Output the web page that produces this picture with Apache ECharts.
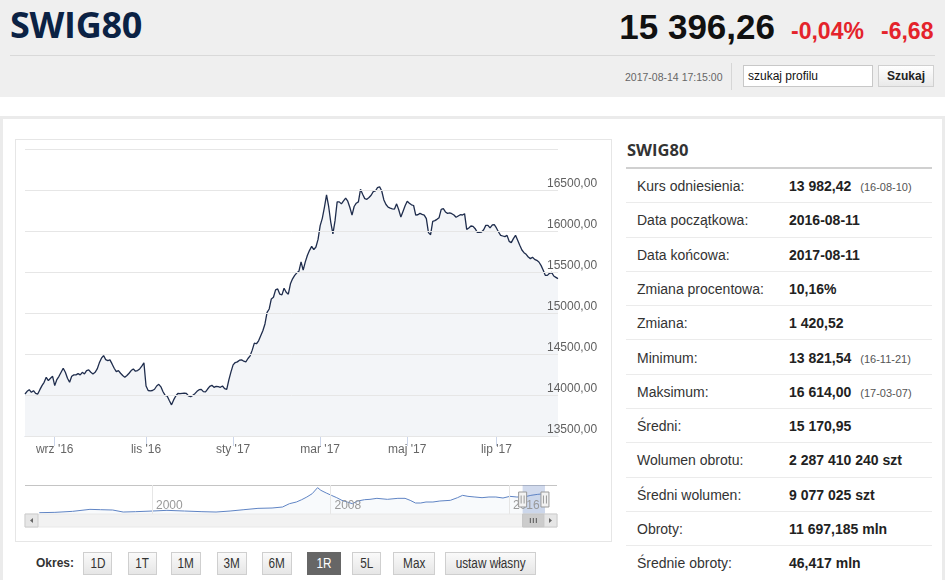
<!DOCTYPE html>
<html><head><meta charset="utf-8">
<script src="https://cdn.jsdelivr.net/npm/echarts@6/dist/echarts.min.js"></script>
<style>
html,body{margin:0;padding:0;width:945px;height:580px;overflow:hidden;background:#fff;font-family:"Liberation Sans",Arial,sans-serif;}
.a{position:absolute;white-space:nowrap;}
#hdr{left:0;top:0;width:945px;height:97px;background:#efefef;}
#t1{left:10px;top:5px;line-height:40px;font-family:"Open Sans",sans-serif;font-weight:700;font-size:36px;color:#0b2244;letter-spacing:-0.3px;}
#price{right:170px;top:7px;line-height:40px;font-weight:700;font-size:35px;color:#111;}
#pct{left:791px;top:11px;line-height:40px;font-weight:700;font-size:23px;color:#e4232b;}
#chg{left:881px;top:11px;line-height:40px;font-weight:700;font-size:23px;color:#e4232b;}
#hline{left:10px;top:55px;width:925px;height:1px;background:#d9d9d9;}
#date{left:625px;top:67px;line-height:20px;font-size:10.5px;color:#666;}
#vsep{left:731px;top:63px;width:1px;height:27px;background:#d6d6d6;}
#inp{left:743px;top:65px;width:130px;height:22px;box-sizing:border-box;border:1px solid #c8c8c8;background:#fff;font-size:12px;line-height:20px;padding-left:4px;color:#111;}
#btn{left:878px;top:65px;width:56px;height:22px;box-sizing:border-box;border:1px solid #d0d0d0;background:linear-gradient(#ffffff,#e9e9e9);font-size:12px;font-weight:700;line-height:20px;text-align:center;color:#222;}
#outer{left:0;top:116px;width:945px;height:470px;box-sizing:border-box;border:3px solid #ebebeb;border-bottom:none;}
#cbox{left:15px;top:139px;width:597px;height:403px;box-sizing:border-box;border:1px solid #e6e6e6;}
#chart{left:16px;top:140px;width:595px;height:401px;}
#okres{left:36px;top:552px;line-height:23px;font-size:12px;font-weight:700;color:#333;}
.pb{top:552px;height:23px;box-sizing:border-box;border:1px solid #cfcfcf;background:linear-gradient(#fafafa,#e6e6e6);font-size:14px;line-height:21px;text-align:center;color:#333;}
.pb span{display:inline-block;transform:scaleX(0.84);transform-origin:50% 50%;}
.pb.on{background:#666;border-color:#666;color:#fff;}
#rt{left:627px;top:140px;line-height:20px;font-family:"Open Sans",sans-serif;font-weight:700;font-size:16.5px;color:#333;}
#rline{left:626px;top:167px;width:306px;height:2px;background:#d0d0d0;}
.row{left:626px;width:306px;height:34.3px;box-sizing:border-box;border-bottom:1px solid #ebebeb;}
.row .l{position:absolute;left:11px;top:0;line-height:35px;font-size:14px;color:#333;}
.row .v{position:absolute;left:163px;top:0;line-height:35px;font-size:14px;font-weight:700;color:#222;}
.row .d{font-size:11px;font-weight:400;color:#555;margin-left:9px;}
</style></head>
<body>
<div id="hdr" class="a"></div>
<div id="t1" class="a">SWIG80</div>
<div id="price" class="a">15 396,26</div>
<div id="pct" class="a">-0,04%</div>
<div id="chg" class="a">-6,68</div>
<div id="hline" class="a"></div>
<div id="date" class="a">2017-08-14 17:15:00</div>
<div id="vsep" class="a"></div>
<div id="inp" class="a">szukaj profilu</div>
<div id="btn" class="a">Szukaj</div>
<div id="outer" class="a"></div>
<div id="cbox" class="a"></div>
<div id="chart" class="a"></div>
<div id="okres" class="a">Okres:</div>
<div id="btns"></div>
<div id="rt" class="a">SWIG80</div>
<div id="rline" class="a"></div>
<div id="rows"></div>
<script>
// ---- main series (daily closes, trading days 2016-08-11 .. 2017-08-11) ----
const startDate = '2016-08-11';
const endDate = '2017-08-11';
const holidays = ['2016-08-15','2016-11-01','2016-11-11','2016-12-26','2017-01-06','2017-04-14','2017-04-17','2017-05-01','2017-05-03','2017-06-15'];
const closeValues = [
14012,14045,14065,14033,14053,14020,14012,14065,14114,14155,
14216,14175,14204,14228,14114,14188,14228,14277,14326,14277,
14204,14155,14228,14245,14245,14261,14245,14277,14257,14298,
14306,14277,14257,14277,14318,14392,14449,14481,14432,14420,
14428,14379,14326,14286,14298,14265,14237,14216,14237,14265,
14298,14318,14290,14298,14318,14351,14392,14110,14055,14050,
14055,14070,14110,14130,14100,14040,13995,13985,13930,13880,
13940,13988,14020,14016,14020,14024,14020,13988,13980,13996,
14016,14045,14065,14069,14041,14037,14073,14106,14118,14094,
14106,14102,14094,14110,14078,14069,14184,14282,14367,14396,
14404,14425,14429,14412,14404,14445,14478,14547,14633,14625,
14661,14723,14784,14866,15008,15049,15172,15192,15282,15294,
15229,15221,15302,15253,15229,15356,15417,15458,15490,15510,
15624,15523,15624,15704,15764,15813,15772,15805,15897,16066,
16154,16287,16440,16299,16106,15965,16126,16355,16355,16331,
16367,16400,16363,16287,16194,16299,16339,16355,16508,16448,
16395,16387,16408,16436,16480,16488,16528,16540,16488,16379,
16323,16291,16279,16271,16267,16331,16259,16170,16239,16307,
16363,16339,16319,16311,16194,16198,16215,16203,16194,16150,
15980,15955,16118,16126,16142,16163,16264,16272,16232,16215,
16220,16211,16195,16167,16183,16199,16195,16211,16020,16037,
16061,16057,16028,15984,15984,15988,16016,16069,16069,16037,
16073,16077,16037,15988,15947,15939,15931,15947,15874,15858,
15907,15947,15886,15825,15768,15736,15715,15683,15663,15679,
15654,15642,15622,15581,15524,15459,15459,15484,15496,15451,
15435,15419];
const tickDates = ['2016-09-01','2016-11-02','2017-01-02','2017-03-01','2017-05-02','2017-07-03'];
const tickLabels = ["wrz '16","lis '16","sty '17","mar '17","maj '17","lip '17"];
const yTickValues = [13500,14000,14500,15000,15500,16000,16500,17000];

// ---- navigator (full history) ----
const navYears = [1994.95,1995.65,1996.44,1997.22,1997.69,1998.24,1998.71,1999.26,2000.01,2000.67,2001.46,2002.24,2002.87,2003.50,2004.12,2004.75,2005.38,2005.85,2006.16,2006.47,2006.71,2006.94,2007.18,2007.42,2007.57,2007.81,2008.04,2008.28,2008.51,2008.75,2008.98,2009.22,2009.53,2009.77,2010.08,2010.55,2011.02,2011.34,2011.57,2011.81,2012.04,2012.28,2012.59,2012.90,2013.37,2013.69,2013.92,2014.16,2014.47,2014.79,2015.10,2015.41,2015.73,2016.04,2016.35,2016.67,2016.98,2017.29,2017.61];
const navValues = [999,1252,2011,3529,3276,3023,1505,1758,2264,2770,2264,1758,1505,2264,3276,4288,4541,5300,7830,9095,10866,12890,15420,19974,17950,15926,14155,12384,10360,9095,7830,9854,10866,11119,11878,11119,11878,11878,10360,8336,8336,9095,9095,9854,10360,12384,14155,13396,12890,12384,12890,12890,12131,13396,12890,12890,14155,14914,15420];
const navTickYears = [2000,2008,2016];
const navSelection = [2016.61, 2017.61];

// ---- page texts ----
const periodButtons = ['1D','1T','1M','3M','6M','1R','5L','Max','ustaw własny'];
const activePeriod = '1R';
const statLabels = ['Kurs odniesienia:','Data początkowa:','Data końcowa:','Zmiana procentowa:','Zmiana:','Minimum:','Maksimum:','Średni:','Wolumen obrotu:','Średni wolumen:','Obroty:','Średnie obroty:'];
const statValues = ['13 982,42','2016-08-11','2017-08-11','10,16%','1 420,52','13 821,54','16 614,00','15 170,95','2 287 410 240 szt','9 077 025 szt','11 697,185 mln','46,417 mln'];
const statDates = ['(16-08-10)','','','','','(16-11-21)','(17-03-07)','','','','',''];

// build period buttons and stats table
(function(){
  const lefts=[83,128,171,217,262,307,352,393,445];
  const widths=[29,29,30,30,30,34,29,42,91];
  const c=document.getElementById('btns');
  periodButtons.forEach((t,i)=>{
    const d=document.createElement('div');
    d.className='a pb'+(t===activePeriod?' on':'');
    d.style.left=lefts[i]+'px'; d.style.width=widths[i]+'px';
    const s=document.createElement('span'); s.textContent=t; d.appendChild(s);
    c.appendChild(d);
  });
  const r=document.getElementById('rows');
  statLabels.forEach((l,i)=>{
    const d=document.createElement('div');
    d.className='a row';
    d.style.top=(169+34.3*i)+'px';
    d.innerHTML='<span class="l">'+l+'</span><span class="v">'+statValues[i]+(statDates[i]?'<span class="d">'+statDates[i]+'</span>':'')+'</span>';
    r.appendChild(d);
  });
})();

// trading-day categories
function tradingDays(s,e,hol){
  const out=[]; const hs=new Set(hol);
  let d=new Date(s+'T00:00:00Z'); const end=new Date(e+'T00:00:00Z');
  while(d<=end){
    const wd=d.getUTCDay(); const k=d.toISOString().slice(0,10);
    if(wd!==0&&wd!==6&&!hs.has(k)) out.push(k);
    d=new Date(d.getTime()+86400000);
  }
  return out;
}
const dates = tradingDays(startDate,endDate,holidays);
const tickMap = {}; tickDates.forEach((d,i)=>tickMap[d]=tickLabels[i]);
const isTick = (i,v)=> tickMap[v]!==undefined;

const FONT='"Liberation Sans",Arial,sans-serif';
const G0={left:9,top:9,width:533,height:287};
const G1={left:9,top:345,width:532,height:29};
const chart = echarts.init(document.getElementById('chart'));
chart.setOption({
  animation:false,
  grid:[G0,G1],
  xAxis:[
    {type:'category',gridIndex:0,data:dates,boundaryGap:false,
     axisLine:{lineStyle:{color:'#ccd6eb'}},
     axisTick:{show:true,interval:isTick,length:10,lineStyle:{color:'#ccd6eb'}},
     axisLabel:{interval:isTick,formatter:v=>tickMap[v]||'',color:'#666',fontSize:12,fontFamily:FONT,margin:8},
     splitLine:{show:false}},
    {type:'value',gridIndex:1,min:1994.31,max:2018.15,z:5,
     axisLine:{show:false},splitLine:{show:false},
     axisTick:{show:true,customValues:navTickYears,inside:true,length:29,lineStyle:{color:'#e6e6e6'}},
     axisLabel:{customValues:navTickYears,inside:true,align:'left',padding:[0,0,0,4],formatter:v=>String(Math.round(v)),color:'#999',fontSize:12,fontFamily:FONT,margin:2}}
  ],
  yAxis:[
    {type:'value',gridIndex:0,position:'right',min:yTickValues[0],max:yTickValues[yTickValues.length-1],interval:500,z:10,
     axisLine:{show:false},axisTick:{show:false},
     splitLine:{lineStyle:{color:'#e6e6e6'}},
     axisLabel:{showMaxLabel:false,formatter:v=>v.toFixed(2).replace('.',','),color:'#606060',fontSize:12,fontFamily:FONT,margin:-11,align:'left',verticalAlign:'bottom'}},
    {type:'value',gridIndex:1,min:0,max:22000,interval:22000,
     axisLabel:{show:false},axisLine:{show:false},axisTick:{show:false},
     splitLine:{lineStyle:{color:'#c4c4c4'}}}
  ],
  series:[
    {type:'line',xAxisIndex:0,yAxisIndex:0,data:closeValues,symbol:'none',silent:true,
     lineStyle:{color:'#1f2d4d',width:1.3},areaStyle:{color:'#f3f5f8',opacity:1,origin:'start'}},
    {type:'line',xAxisIndex:1,yAxisIndex:1,data:navYears.map((y,i)=>[y,navValues[i]]),symbol:'none',silent:true,
     lineStyle:{color:'#5f84c4',width:1},areaStyle:{color:'rgba(95,132,196,0.06)',origin:'start'},
     markArea:{silent:true,itemStyle:{color:'rgba(102,133,194,0.3)'},data:[[{xAxis:navSelection[0]},{xAxis:navSelection[1]}]]}}
  ]
});
// navigator handles and scrollbar
(function(){
  const xs=chart.convertToPixel({xAxisIndex:1},navSelection[0]);
  const xe=chart.convertToPixel({xAxisIndex:1},navSelection[1]);
  const cy=G1.top+G1.height/2;
  const sTop=G1.top+G1.height, sH=13, sL=G1.left, sR=G1.left+G1.width;
  const els=[];
  els.push({type:'rect',shape:{x:sL,y:sTop,width:sR-sL,height:sH},style:{fill:'#f2f2f2',stroke:'#e8e8e8'},z:10});
  const thumbR=Math.min(xe,sR-sH);
  els.push({type:'rect',shape:{x:xs,y:sTop,width:thumbR-xs,height:sH},style:{fill:'#cccccc',stroke:'#c4c4c4'},z:11});
  const tc=(xs+thumbR)/2;
  [-3,0,3].forEach(o=>els.push({type:'line',shape:{x1:tc+o,y1:sTop+4,x2:tc+o,y2:sTop+9},style:{stroke:'#555',lineWidth:1},z:12}));
  els.push({type:'rect',shape:{x:sL,y:sTop,width:sH,height:sH},style:{fill:'#e6e6e6',stroke:'#cccccc'},z:12});
  els.push({type:'polygon',shape:{points:[[sL+8,sTop+4],[sL+8,sTop+9],[sL+5,sTop+6.5]]},style:{fill:'#666'},z:13});
  els.push({type:'rect',shape:{x:sR-sH,y:sTop,width:sH,height:sH},style:{fill:'#e6e6e6',stroke:'#cccccc'},z:12});
  els.push({type:'polygon',shape:{points:[[sR-8,sTop+4],[sR-8,sTop+9],[sR-5,sTop+6.5]]},style:{fill:'#666'},z:13});
  [xs,xe].forEach(x=>{
    els.push({type:'rect',shape:{x:x-4,y:cy-7.5,width:8,height:15},style:{fill:'#f2f2f2',stroke:'#999',lineWidth:1},z:14});
    els.push({type:'line',shape:{x1:x-1.5,y1:cy-4,x2:x-1.5,y2:cy+4},style:{stroke:'#999',lineWidth:1},z:15});
    els.push({type:'line',shape:{x1:x+1.5,y1:cy-4,x2:x+1.5,y2:cy+4},style:{stroke:'#999',lineWidth:1},z:15});
  });
  chart.setOption({graphic:{elements:els}});
})();
</script>
</body></html>
